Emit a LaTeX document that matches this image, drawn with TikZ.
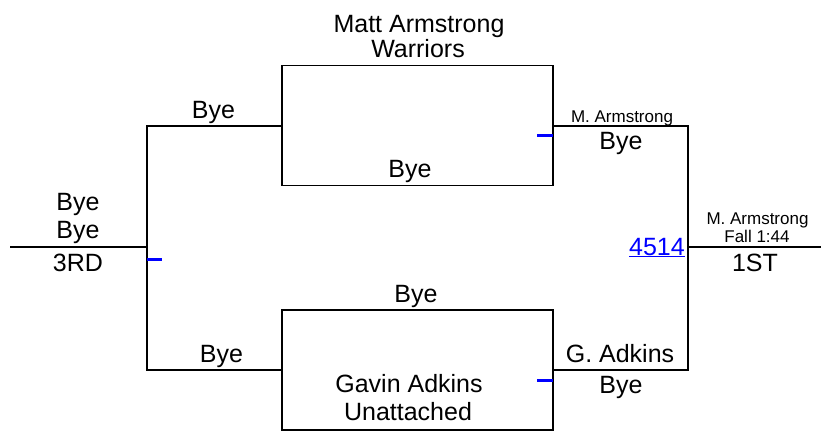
\documentclass[tikz,border=0pt]{standalone}
\usepackage{fontspec}
\setmainfont{Liberation Sans}
\begin{document}
\begin{tikzpicture}[x=1pt,y=-1pt,
  big/.style={inner sep=0pt,anchor=base,font=\fontsize{25}{30}\selectfont},
  small/.style={inner sep=0pt,anchor=base,font=\fontsize{17}{20}\selectfont},
  matchbox/.style={draw,line width=1.2pt,minimum width=271pt,minimum height=120pt,inner sep=0pt},
  bline/.style={line width=2pt},
  tick/.style={line width=3pt,blue}]
\useasboundingbox (0,0) rectangle (821,431);
% boxes
\node[matchbox] (topbox) at (417.5,125.5) {};
\node[matchbox] (botbox) at (417.5,370) {};
% junctions
\coordinate (L) at (147,247);
\coordinate (R) at (688,247);
\coordinate (Lend) at (10,247);
\coordinate (Rend) at (821,247);
% connectors
\draw[bline] (topbox.west) -| (L) |- (botbox.west);
\draw[bline] (topbox.east) -| (R) |- (botbox.east);
\draw[bline] (Lend) -- (L);
\draw[bline] (R) -- (Rend);
% blue ticks
\draw[tick] (537,135) -- (553,135);
\draw[tick] (147,259) -- (162,259);
\draw[tick] (537,380) -- (553,380);
% texts top
\node[big] (t1) at (419,32) {Matt Armstrong};
\node[big] (t2) at (418,57) {Warriors};
\node[big] (t3) at (410,177) {Bye};
\node[big] (t4) at (213.5,118) {Bye};
\node[small] (t5) at (622,122) {M. Armstrong};
\node[big] (t6) at (621,149) {Bye};
% left
\node[big] (l1) at (78,210) {Bye};
\node[big] (l2) at (78,238) {Bye};
\node[big] (l3) at (78,271) {3RD};
% right
\node[small] (r1) at (757.5,224) {M. Armstrong};
\node[small] (r2) at (757,242) {Fall 1:44};
\node[big] (r3) at (755,271) {1ST};
\node[big,anchor=base east,text=blue] (bout) at (685,255) {\underline{4514}};
% bottom
\node[big] (b1) at (416,302) {Bye};
\node[big] (b2) at (221.5,362) {Bye};
\node[big] (b3) at (409,392) {Gavin Adkins};
\node[big] (b4) at (408,420) {Unattached};
\node[big] (b5) at (620,362) {G. Adkins};
\node[big] (b6) at (621,393) {Bye};
\end{tikzpicture}
\end{document}
